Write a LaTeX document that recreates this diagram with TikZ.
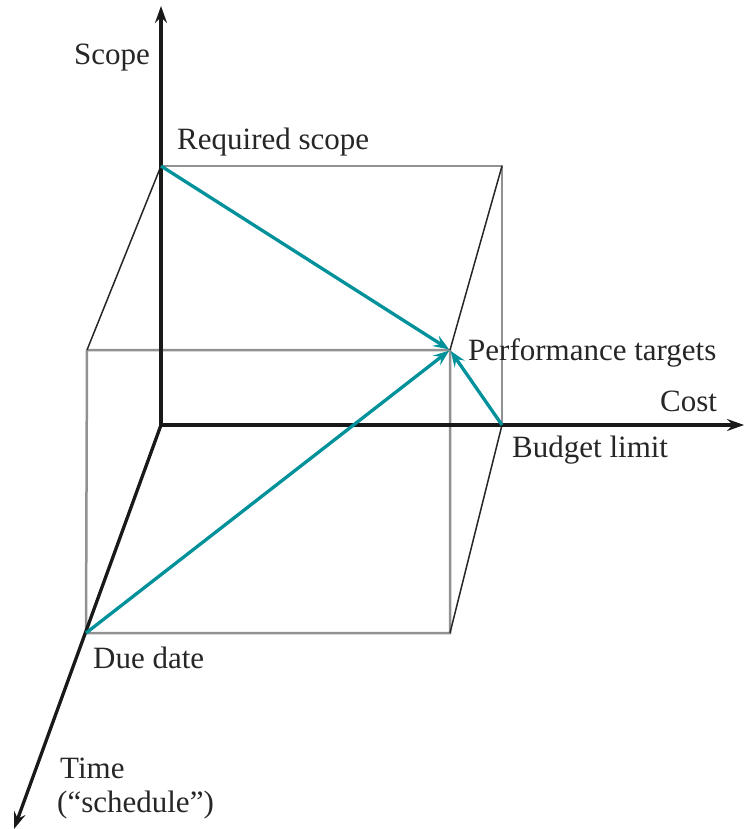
\documentclass[tikz,border=0pt]{standalone}
\usepackage{fontspec}
\setmainfont{Liberation Serif}
\usetikzlibrary{arrows.meta}
\definecolor{tealc}{RGB}{0,145,155}
\definecolor{boxgray}{RGB}{145,145,145}
\tikzset{
  axis/.style={line width=3.3pt, black!90, -{Stealth[length=17pt,width=12pt,inset=6pt]}},
  boxedge/.style={line width=2.5pt, boxgray},
  diagedge/.style={line width=1.5pt, black!85},
  tealarrow/.style={line width=3.3pt, tealc, -{Stealth[length=16pt,width=12pt,inset=6pt]}, shorten >=1pt},
  lbl/.style={inner sep=0pt, anchor=base west, font=\fontsize{31}{36}\selectfont, text=black!85}
}
\begin{document}
\begin{tikzpicture}[x=1pt,y=-1pt]
\useasboundingbox (0,0) rectangle (744,829);
% points
\coordinate (O) at (161,425);
\coordinate (RS) at (161,166);
\coordinate (BTR) at (502,166);
\coordinate (BL) at (502,425);
\coordinate (FTL) at (87,350);
\coordinate (PT) at (450,350);
\coordinate (FBR) at (450,633);
\coordinate (DD) at (86,633);
\coordinate (SY) at (161,6);
\coordinate (CX) at (744,425);
\coordinate (TZ) at (14,829);
% box edges
\draw[boxedge] (RS) -- (BTR) -- (BL);
\draw[boxedge] (FTL) -- (PT) -- (FBR) -- (DD) -- (FTL);
\draw[diagedge] (RS) -- (FTL);
\draw[diagedge] (BTR) -- (PT);
\draw[diagedge] (BL) -- (FBR);
% axes
\draw[axis] (O) -- (SY);
\draw[axis] (O) -- (CX);
\draw[axis] (O) -- (TZ);
% teal arrows
\draw[tealarrow] (RS) -- (PT);
\draw[tealarrow] (DD) -- (PT);
\draw[tealarrow] (BL) -- (PT);
% labels
\node[lbl] (lscope) at (74,65) {Scope};
\node[lbl] (lreq) at (177,150) {Required scope};
\node[lbl] (lperf) at (468,360) {Performance targets};
\node[lbl] (lcost) at (660,411) {Cost};
\node[lbl] (lbud) at (512,457) {Budget limit};
\node[lbl] (ldue) at (93,668) {Due date};
\node[lbl] (ltime) at (60,778) {Time};
\node[lbl] (lsch) at (57,812) {(“schedule”)};
\end{tikzpicture}
\end{document}
